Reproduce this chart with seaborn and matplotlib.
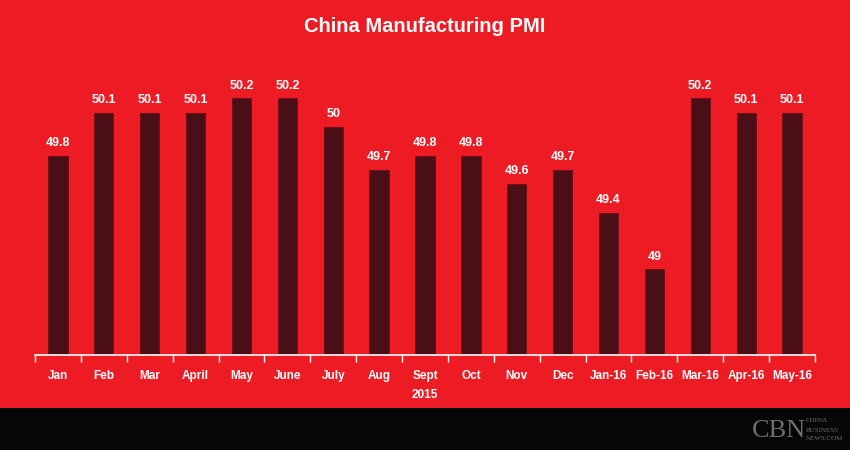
import matplotlib
matplotlib.use("Agg")
import matplotlib.pyplot as plt
import seaborn as sns
import pandas as pd
from matplotlib.patches import Rectangle

months = ["Jan", "Feb", "Mar", "April", "May", "June", "July", "Aug", "Sept",
          "Oct", "Nov", "Dec", "Jan-16", "Feb-16", "Mar-16", "Apr-16", "May-16"]
pmi = [49.8, 50.1, 50.1, 50.1, 50.2, 50.2, 50.0, 49.7, 49.8, 49.8, 49.6, 49.7,
       49.4, 49.0, 50.2, 50.1, 50.1]
value_labels = ["49.8", "50.1", "50.1", "50.1", "50.2", "50.2", "50", "49.7", "49.8",
                "49.8", "49.6", "49.7", "49.4", "49", "50.2", "50.1", "50.1"]
year_label = "2015"
title = "China Manufacturing PMI"

RED = "#ED1C24"
BAR = "#4A0E16"
BLACK = "#060606"

sns.set_theme(style="white")
plt.rcParams["font.family"] = ["Liberation Sans Narrow", "Liberation Sans", "DejaVu Sans"]

df = pd.DataFrame({"month": months, "pmi": pmi})
base = 48.4
df["height"] = df["pmi"] - base

fig = plt.figure(figsize=(8.5, 4.5), dpi=100, facecolor=RED)
fig.patches.append(Rectangle((0, 0), 1, 42 / 450, transform=fig.transFigure,
                             facecolor=BLACK, edgecolor="none", zorder=0))
ax = fig.add_axes([35 / 850, 1 - 355 / 450, 780 / 850, 299.25 / 450])
ax.set_facecolor(RED)

sns.barplot(data=df, x="month", y="height", ax=ax, color=BAR, width=0.42,
            saturation=1, order=months)
for p in ax.patches:
    p.set_y(base)
    p.set_edgecolor("#6a1018")
    p.set_linewidth(0.6)

ax.set_ylim(base, 50.5)
ax.set_xlim(-0.5, len(months) - 0.5)
ax.set_xlabel("")
ax.set_ylabel("")
ax.set_yticks([])

for i, (v, lab) in enumerate(zip(pmi, value_labels)):
    ax.annotate(lab, (i, v), xytext=(0, 5), textcoords="offset points",
                ha="center", va="bottom", color="white", fontsize=9,
                fontweight="bold")

for s in ["top", "left", "right"]:
    ax.spines[s].set_visible(False)
ax.spines["bottom"].set_color("white")
ax.spines["bottom"].set_linewidth(1.2)

ax.set_xticks(range(len(months)))
ax.set_xticklabels(months, color="white", fontsize=8.5, fontweight="bold")
ax.tick_params(axis="x", which="major", length=0, pad=11)
ax.set_xticks([i - 0.5 for i in range(len(months) + 1)], minor=True)
ax.tick_params(axis="x", which="minor", bottom=True, length=5, color="white",
               width=1, direction="out")

ax.text(8, -0.135, year_label, transform=ax.get_xaxis_transform(), ha="center",
        va="center", color="white", fontsize=8.5, fontweight="bold")

fig.text(0.5, 1 - 27 / 450, title, ha="center", va="center", color="white",
         fontsize=14.5, fontweight="bold")

# logo
fig.text(752 / 850, 1 - 431 / 450, "CBN", ha="left", va="center", color="#6e6e6e",
         fontsize=19, family="Liberation Serif")
fig.text(806 / 850, 1 - 421 / 450, "CHINA", ha="left", va="center", color="#6e6e6e",
         fontsize=5, family="Liberation Serif")
fig.text(806 / 850, 1 - 430 / 450, "BUSINESS", ha="left", va="center", color="#6e6e6e",
         fontsize=5, family="Liberation Serif")
fig.text(806 / 850, 1 - 439 / 450, "NEWS.COM", ha="left", va="center", color="#6e6e6e",
         fontsize=5, family="Liberation Serif")

fig.savefig("out.png", dpi=100, facecolor=RED)
